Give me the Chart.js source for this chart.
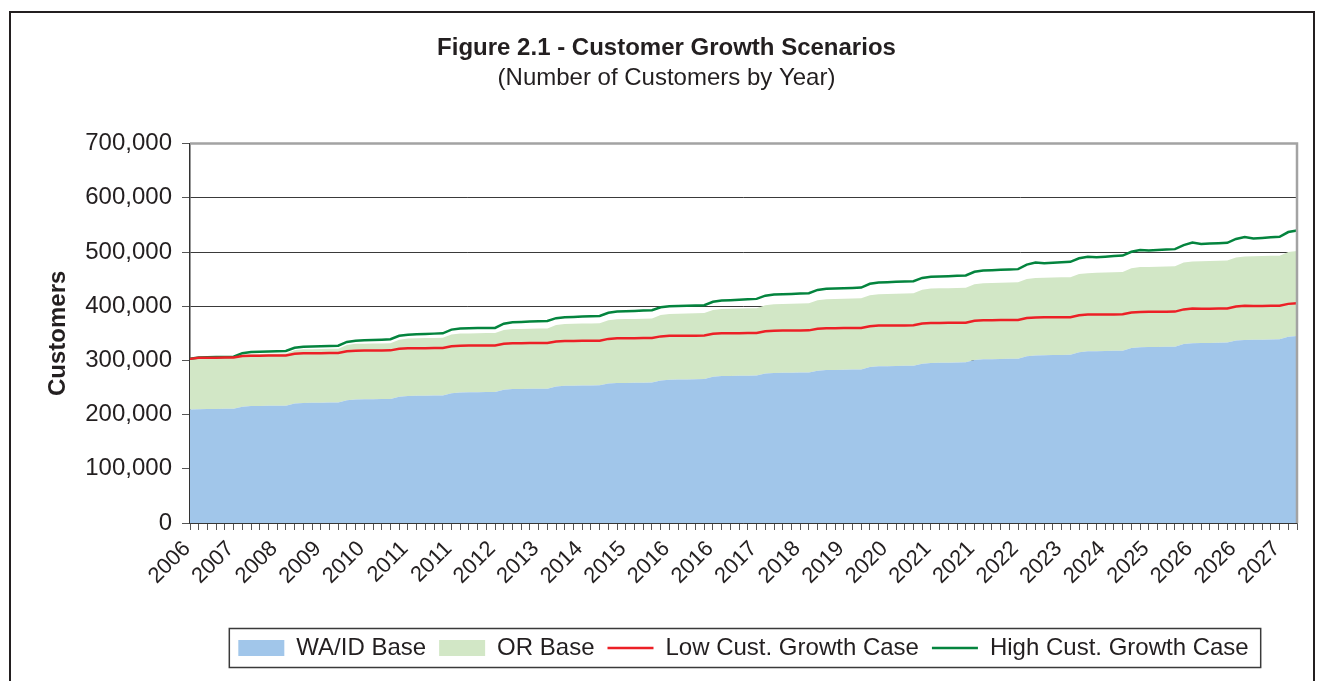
<!DOCTYPE html>
<html>
<head>
<meta charset="utf-8">
<script src="https://cdn.jsdelivr.net/npm/chart.js@4.4.0/dist/chart.umd.min.js"></script>
<style>
  html, body { margin: 0; padding: 0; background: #fff; overflow: hidden; }
  #frame { position: absolute; left: 9px; top: 11px; width: 1302px; height: 700px;
           border: 2px solid #231f20; border-bottom: none; pointer-events: none; }
  canvas { position: absolute; left: 0; top: 0; }
</style>
</head>
<body>
<canvas id="myChart" width="1325" height="681"></canvas>
<div id="frame"></div>
<script>
// year labels shown under every 5th point (bi-monthly points)
var yearTicks = ['2006', '2007', '2008', '2009', '2010', '2011', '2011', '2012', '2013', '2014',
    '2015', '2016', '2016', '2017', '2018', '2019', '2020', '2021', '2021', '2022',
    '2023', '2024', '2025', '2026', '2026', '2027'];

var waidBase = [209500,
    210000, 210200, 210400, 210600, 210800, 214500,
    215700, 215900, 216100, 216300, 216500, 220300,
    221500, 221700, 221900, 222100, 222300, 226600,
    228000, 228200, 228400, 228600, 228800, 233100,
    234500, 234700, 234900, 235100, 235300, 239600,
    241000, 241200, 241400, 241600, 241800, 245800,
    247100, 247300, 247500, 247700, 247900, 251900,
    253200, 253400, 253600, 253800, 254000, 257200,
    258200, 258400, 258700, 258900, 259200, 263000,
    264300, 264600, 264900, 265200, 265500, 269800,
    271200, 271400, 271700, 271900, 272200, 275600,
    276700, 277000, 277300, 277600, 277900, 281100,
    282200, 282500, 282800, 283100, 283400, 287700,
    289100, 289400, 289700, 290000, 290300, 294000,
    295200, 295500, 295800, 296100, 296400, 300600,
    302000, 302300, 302600, 302900, 303200, 307700,
    309200, 309500, 309800, 310100, 310400, 315200,
    316800, 317100, 317400, 317700, 318000, 322700,
    324200, 324500, 324800, 325100, 325400, 330100,
    331600, 331900, 332200, 332500, 332800, 336500,
    337700, 338000, 338300, 338600, 338900, 343500,
    345000];

var orBase = [91500,
    93300, 93400, 93500, 93600, 93700, 95300,
    95800, 95900, 96000, 96100, 96200, 98300,
    99000, 99100, 99200, 99300, 99400, 101700,
    102500, 102600, 102700, 102800, 102900, 105200,
    106000, 106100, 106200, 106300, 106400, 108000,
    108500, 108600, 108700, 108800, 108900, 110300,
    110700, 110800, 110900, 111000, 111100, 113400,
    114100, 114200, 114300, 114400, 114500, 116900,
    117700, 117800, 117900, 118000, 118100, 120600,
    121400, 121500, 121600, 121700, 121800, 123300,
    123800, 123900, 124000, 124100, 124200, 126300,
    127000, 127100, 127200, 127300, 127400, 129900,
    130700, 130800, 130900, 131000, 131100, 132600,
    133100, 133200, 133300, 133400, 133500, 136400,
    137300, 137400, 137500, 137600, 137700, 139800,
    140500, 140600, 140700, 140800, 140900, 142300,
    142800, 142900, 143000, 143100, 143200, 144000,
    144200, 144400, 144600, 144800, 145000, 147200,
    147900, 148000, 148100, 148200, 148300, 150300,
    150900, 151000, 151100, 151200, 151300, 153300,
    154000, 154100, 154200, 154300, 154400, 156400,
    157000];

var lowCase = [302800,
    304800, 305000, 305100, 305200, 305300, 307900,
    308700, 308800, 309000, 309100, 309200, 312100,
    313100, 313200, 313300, 313500, 313600, 316900,
    318000, 318100, 318200, 318400, 318500, 321400,
    322300, 322400, 322600, 322700, 322800, 326100,
    327200, 327300, 327400, 327600, 327700, 330600,
    331600, 331700, 331900, 332000, 332100, 335000,
    335900, 336000, 336200, 336300, 336400, 339700,
    340800, 340900, 341000, 341200, 341300, 344300,
    345300, 345400, 345600, 345700, 345800, 349000,
    350000, 350100, 350300, 350400, 350500, 353800,
    354900, 355000, 355200, 355300, 355400, 358300,
    359300, 359400, 359600, 359700, 359800, 363100,
    364200, 364300, 364500, 364600, 364700, 368000,
    369100, 369200, 369400, 369500, 369600, 373000,
    374100, 374200, 374400, 374500, 374600, 378100,
    379300, 379400, 379600, 379700, 379800, 383300,
    384500, 384600, 384800, 384900, 385000, 388400,
    389500, 389600, 389800, 389900, 390000, 394100,
    395800, 395200, 395400, 395600, 395800, 399300,
    400800, 400300, 400500, 400700, 400900, 404300,
    405500];

var highCase = [303000,
    305500, 305800, 306200, 306500, 306800, 313300,
    315500, 315900, 316400, 316900, 317400, 323300,
    325300, 325700, 326200, 326700, 327200, 334100,
    336400, 337000, 337600, 338300, 339000, 345400,
    347500, 348100, 348700, 349400, 350000, 356800,
    359000, 359300, 359600, 359800, 360000, 367800,
    370400, 371000, 371600, 372200, 372800, 377900,
    379600, 380200, 380800, 381400, 382000, 388000,
    390000, 390600, 391200, 391900, 392500, 398100,
    400000, 400400, 400900, 401300, 401800, 408200,
    410300, 411100, 411900, 412700, 413500, 419400,
    421400, 422000, 422700, 423300, 424000, 430000,
    432000, 432600, 433200, 433800, 434400, 441300,
    443600, 444200, 444900, 445500, 446200, 452200,
    454200, 454800, 455400, 456000, 456600, 463500,
    465800, 466400, 467100, 467700, 468400, 476700,
    480500, 479300, 480200, 481100, 481900, 488400,
    491300, 490300, 491400, 492500, 493500, 500500,
    503500, 502600, 503600, 504500, 505300, 512700,
    517500, 514600, 515500, 516300, 517000, 524100,
    527500, 525000, 526000, 527000, 528100, 536800,
    539700];

var font = "'Liberation Sans', Arial, sans-serif";
var ink = '#231f20';
var legendPad = 13;

var categories = waidBase.map(function (v, i) { return i; });

// legend centred under the plot, box round it, gray border on top/right of plot
var extras = {
    id: 'extras',
    beforeDraw: function (chart) {
        var lg = chart.legend;
        lg.left = chart.chartArea.left;
        lg.right = chart.chartArea.right;
        lg.width = lg.right - lg.left;
    },
    afterDraw: function (chart) {
        var ctx = chart.ctx, a = chart.chartArea;
        ctx.save();
        ctx.strokeStyle = '#a3a3a3';
        ctx.lineWidth = 2.5;
        ctx.beginPath();
        ctx.moveTo(a.left, a.top);
        ctx.lineTo(a.right, a.top);
        ctx.lineTo(a.right, a.bottom);
        ctx.stroke();

        var hb = chart.legend.legendHitBoxes;
        var total = legendPad * (hb.length - 1);
        hb.forEach(function (h) { total += h.width; });
        var cx = (a.left + a.right) / 2;
        var cy = hb[0].top + hb[0].height / 2;
        var x0 = cx - total / 2 - 9, x1 = cx + total / 2 + 12;
        ctx.strokeStyle = '#3a3a3a';
        ctx.lineWidth = 1.5;
        ctx.strokeRect(x0, cy - 19.5, x1 - x0, 39);
        ctx.restore();
    }
};

var ctx = document.getElementById('myChart');

var myChart = new Chart(ctx, {
    type: 'line',
    data: {
        labels: categories,
        datasets: [{
            label: 'WA/ID Base',
            data: waidBase,
            stack: 'base',
            order: 1,
            fill: 'origin',
            backgroundColor: 'rgb(161, 198, 234)',
            borderColor: 'rgb(161, 198, 234)',
            borderWidth: 0,
            pointRadius: 0,
            pointStyle: 'rect'
        }, {
            label: 'OR Base',
            data: orBase,
            stack: 'base',
            order: 2,
            fill: '-1',
            backgroundColor: 'rgb(210, 231, 198)',
            borderColor: 'rgb(210, 231, 198)',
            borderWidth: 0,
            pointRadius: 0,
            pointStyle: 'rect'
        }, {
            label: 'Low Cust. Growth Case',
            data: lowCase,
            stack: 'low',
            order: 0,
            fill: false,
            borderColor: 'rgb(236, 32, 38)',
            backgroundColor: 'rgb(236, 32, 38)',
            borderWidth: 2.5,
            pointRadius: 0,
            pointStyle: 'line'
        }, {
            label: 'High Cust. Growth Case',
            data: highCase,
            stack: 'high',
            order: 0,
            fill: false,
            borderColor: 'rgb(4, 132, 62)',
            backgroundColor: 'rgb(4, 132, 62)',
            borderWidth: 2.5,
            pointRadius: 0,
            pointStyle: 'line'
        }]
    },
    options: {
        responsive: false,
        animation: false,
        devicePixelRatio: 1,
        layout: { padding: { top: 14, left: 36, right: 28, bottom: 11 } },
        elements: { line: { tension: 0 } },
        plugins: {
            title: {
                display: true,
                text: 'Figure 2.1 - Customer Growth Scenarios',
                color: ink,
                font: { family: font, size: 24, weight: 'bold' },
                padding: { top: 20, bottom: 1 }
            },
            subtitle: {
                display: true,
                text: '(Number of Customers by Year)',
                color: ink,
                font: { family: font, size: 24 },
                padding: { top: 0, bottom: 51 }
            },
            legend: {
                position: 'bottom',
                labels: {
                    color: ink,
                    font: { family: font, size: 24 },
                    usePointStyle: true,
                    pointStyleWidth: 46,
                    boxWidth: 46,
                    boxHeight: 16,
                    padding: legendPad,
                    sort: function (a, b) { return a.datasetIndex - b.datasetIndex; }
                }
            },
            tooltip: { enabled: false }
        },
        scales: {
            x: {
                offset: false,
                grid: { drawOnChartArea: false, drawTicks: true, tickLength: 7, tickColor: '#555', lineWidth: 1 },
                border: { color: '#333', width: 1.5 },
                ticks: {
                    autoSkip: false,
                    minRotation: 45,
                    maxRotation: 45,
                    padding: 6,
                    labelOffset: -3,
                    color: ink,
                    font: { family: font, size: 22 },
                    callback: function (v, i) { return i % 5 === 0 ? yearTicks[i / 5] : ''; }
                },
                afterFit: function (scale) { scale.height = 100; }
            },
            y: {
                stacked: true,
                min: 0,
                max: 700000,
                grid: {
                    color: function (c) { return c.tick && c.tick.value === 700000 ? 'rgba(0,0,0,0)' : '#3a3a3a'; },
                    tickColor: '#555',
                    tickLength: 8,
                    lineWidth: 1
                },
                border: { color: '#333', width: 1.5 },
                ticks: {
                    stepSize: 100000,
                    padding: 10,
                    color: ink,
                    font: { family: font, size: 24 },
                    callback: function (v) { return v.toLocaleString('en-US'); }
                },
                title: {
                    display: true,
                    text: 'Customers',
                    color: ink,
                    font: { family: font, size: 24, weight: 'bold' },
                    padding: { top: 8, bottom: 0 }
                },
                afterFit: function (scale) { scale.width = 154; }
            }
        }
    },
    plugins: [extras]
});
</script>
</body>
</html>
